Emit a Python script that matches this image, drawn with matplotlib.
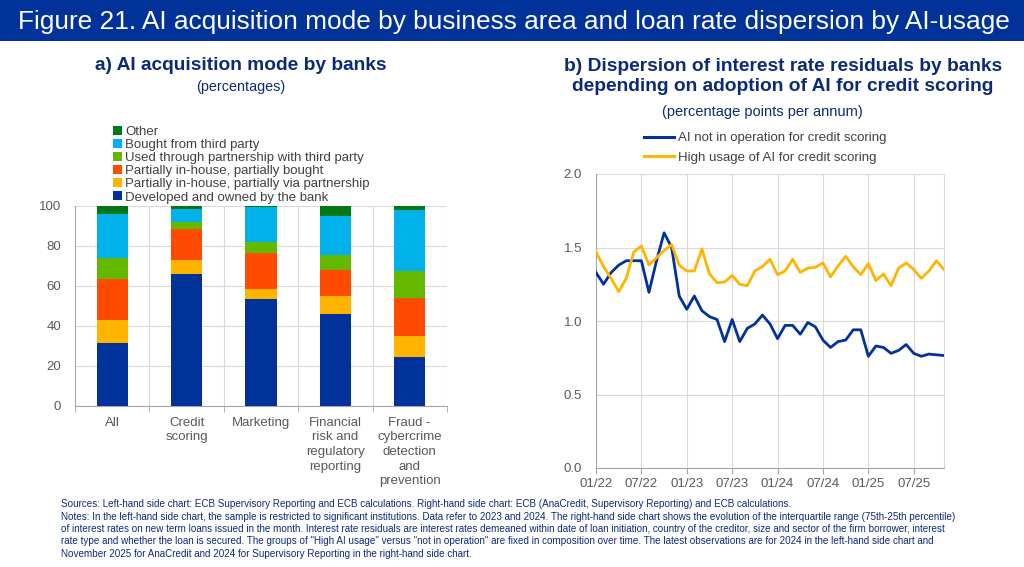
import matplotlib
matplotlib.use("Agg")
import matplotlib.pyplot as plt
from matplotlib.patches import Rectangle
from matplotlib.lines import Line2D
from matplotlib.ticker import FixedLocator, NullFormatter

plt.rcParams['font.family'] = ['Liberation Sans', 'DejaVu Sans']

# ---------------- data ----------------
categories = ["All", "Credit\nscoring", "Marketing", "Financial\nrisk and\nregulatory\nreporting",
              "Fraud -\ncybercrime\ndetection\nand\nprevention"]
series_names = ["Developed and owned by the bank",
                "Partially in-house, partially via partnership",
                "Partially in-house, partially bought",
                "Used through partnership with third party",
                "Bought from third party",
                "Other"]
developed   = [31.3, 65.8, 53.3, 45.8, 24.3]
partnership = [11.5, 7.2, 5.0, 9.0, 10.7]
part_bought = [20.4, 15.2, 17.9, 13.0, 19.0]
used_partner = [10.5, 3.6, 5.5, 7.5, 13.5]
bought      = [22.3, 6.4, 17.8, 19.7, 30.2]
other       = [4.0, 1.8, 0.5, 5.0, 2.3]
bar_series = [developed, partnership, part_bought, used_partner, bought, other]
bar_colors = ["#003299", "#FFB400", "#FF4B00", "#65B800", "#00B1EA", "#007816"]

months = list(range(47))  # Jan 2022 .. Nov 2025
month_tick_pos = [0, 6, 12, 18, 24, 30, 36, 42]
month_tick_labels = ["01/22", "07/22", "01/23", "07/23", "01/24", "07/24", "01/25", "07/25"]
not_in_operation = [1.33, 1.25, 1.33, 1.38, 1.41, 1.41, 1.41, 1.195, 1.41, 1.60,
                    1.50, 1.17, 1.08, 1.17, 1.07, 1.03, 1.01, 0.86, 1.01, 0.86,
                    0.95, 0.98, 1.04, 0.98, 0.88, 0.97, 0.97, 0.91, 0.99, 0.96,
                    0.87, 0.82, 0.86, 0.87, 0.94, 0.94, 0.76, 0.83, 0.82, 0.78,
                    0.80, 0.84, 0.78, 0.76, 0.775, 0.77, 0.765]
high_usage = [1.47, 1.37, 1.29, 1.20, 1.29, 1.47, 1.51, 1.38, 1.43, 1.48,
              1.52, 1.38, 1.34, 1.34, 1.49, 1.32, 1.26, 1.265, 1.31, 1.25,
              1.24, 1.34, 1.37, 1.42, 1.315, 1.34, 1.42, 1.33, 1.36, 1.365,
              1.395, 1.30, 1.375, 1.44, 1.37, 1.315, 1.39, 1.275, 1.32, 1.24,
              1.36, 1.395, 1.35, 1.29, 1.34, 1.41, 1.35]
line_names = ["AI not in operation for credit scoring", "High usage of AI for credit scoring"]
line_colors = ["#003299", "#FFB400"]

# ---------------- figure ----------------
W, H = 1024, 567
fig = plt.figure(figsize=(W / 100, H / 100), dpi=100)
fig.patch.set_facecolor("white")

def fx(px):
    return px / W

def fy(py):
    return 1 - py / H

title_blue = "#003299"
text_blue = "#0C2A7A"
grid_col = "#D9D9D9"
tick_col = "#595959"

# title bar
fig.patches.append(Rectangle((0, fy(41)), 1, 41 / H, transform=fig.transFigure,
                             facecolor=title_blue, edgecolor="none", zorder=0))
fig.text(fx(18), fy(22), "Figure 21. AI acquisition mode by business area and loan rate dispersion by AI-usage",
         color="white", fontsize=18.9, va="center", ha="left")

# ---------------- left chart ----------------
axL = fig.add_axes([fx(75), fy(405.7), fx(447) - fx(75), (405.7 - 205.7) / H])
x = list(range(len(categories)))
bottom = [0.0] * len(categories)
handles = []
for vals, col, name in zip(bar_series, bar_colors, series_names):
    b = axL.bar(x, vals, width=0.42, bottom=bottom, color=col, label=name, zorder=3)
    handles.append(b)
    bottom = [bb + v for bb, v in zip(bottom, vals)]
axL.set_xlim(-0.5, 4.5)
axL.set_ylim(0, 100)
axL.set_yticks([0, 20, 40, 60, 80, 100])
axL.set_xticks(x)
axL.set_xticklabels(categories, fontsize=9.5, color=tick_col, linespacing=1.29, va="top")
axL.tick_params(axis="x", which="major", length=0, pad=8)
axL.xaxis.set_minor_locator(FixedLocator([-0.5, 0.5, 1.5, 2.5, 3.5, 4.5]))
axL.xaxis.set_minor_formatter(NullFormatter())
axL.tick_params(axis="x", which="minor", length=4, color="#A6A6A6", direction="out")
axL.tick_params(axis="y", length=0, labelsize=9.5, labelcolor=tick_col, pad=10)
axL.grid(axis="y", color=grid_col, linewidth=0.8, zorder=0)
axL.grid(axis="x", which="minor", color=grid_col, linewidth=0.8, zorder=0)
for s in ["top", "right"]:
    axL.spines[s].set_visible(False)
for s in ["left", "bottom"]:
    axL.spines[s].set_color("#A6A6A6")
    axL.spines[s].set_linewidth(0.8)

legL = fig.legend(handles[::-1], series_names[::-1], loc="upper left",
                  bbox_to_anchor=(fx(113), fy(126)), frameon=False, fontsize=9.5,
                  handlelength=0.65, handleheight=0.65, handletextpad=0.25,
                  labelspacing=0.08, borderpad=0, borderaxespad=0)
for t in legL.get_texts():
    t.set_color("#404040")

fig.text(fx(241), fy(66), "a) AI acquisition mode by banks", fontsize=13.8, fontweight="bold",
         color=text_blue, ha="center", va="center")
fig.text(fx(241), fy(87.5), "(percentages)", fontsize=10.4, color=text_blue, ha="center", va="center")

# ---------------- right chart ----------------
axR = fig.add_axes([fx(596), fy(468), fx(944) - fx(596), (468 - 174) / H])
axR.plot(months, not_in_operation, color=line_colors[0], linewidth=2.0, label=line_names[0], zorder=3)
axR.plot(months, high_usage, color=line_colors[1], linewidth=2.0, label=line_names[1], zorder=3)
axR.set_xlim(0, 46)
axR.set_ylim(0, 2.0)
axR.set_yticks([0.0, 0.5, 1.0, 1.5, 2.0])
axR.set_yticklabels(["0.0", "0.5", "1.0", "1.5", "2.0"])
axR.set_xticks(month_tick_pos)
axR.set_xticklabels(month_tick_labels)
axR.tick_params(axis="x", length=4, color="#A6A6A6", labelsize=9.5, labelcolor=tick_col, pad=3)
axR.tick_params(axis="y", length=0, labelsize=9.5, labelcolor=tick_col, pad=10)
axR.grid(True, color=grid_col, linewidth=0.8, zorder=0)
axR.spines["top"].set_visible(False)
axR.spines["right"].set_color(grid_col)
axR.spines["right"].set_linewidth(0.8)
for s in ["left", "bottom"]:
    axR.spines[s].set_color("#A6A6A6")
    axR.spines[s].set_linewidth(0.8)

legR = fig.legend(handles=[Line2D([], [], color=c, linewidth=2.2) for c in line_colors],
                  labels=line_names, loc="upper left", bbox_to_anchor=(fx(644), fy(132)),
                  frameon=False, fontsize=9.5, handlelength=2.3, handletextpad=0.3,
                  labelspacing=0.55, borderpad=0, borderaxespad=0)
for t in legR.get_texts():
    t.set_color("#404040")

fig.text(fx(783), fy(76.5), "b) Dispersion of interest rate residuals by banks\ndepending on adoption of AI for credit scoring",
         fontsize=13.8, fontweight="bold", color=text_blue, ha="center", va="center", linespacing=1.2)
fig.text(fx(762), fy(112), "(percentage points per annum)", fontsize=10.5, color=text_blue,
         ha="center", va="center")

# ---------------- notes ----------------
notes = [
    "Sources: Left-hand side chart: ECB Supervisory Reporting and ECB calculations. Right-hand side chart: ECB (AnaCredit, Supervisory Reporting) and ECB calculations.",
    "Notes: In the left-hand side chart, the sample is restricted to significant institutions. Data refer to 2023 and 2024. The right-hand side chart shows the evolution of the interquartile range (75th-25th percentile)",
    "of interest rates on new term loans issued in the month. Interest rate residuals are interest rates demeaned within date of loan initiation, country of the creditor, size and sector of the firm borrower, interest",
    "rate type and whether the loan is secured. The groups of \"High AI usage\" versus \"not in operation\" are fixed in composition over time. The latest observations are for 2024 in the left-hand side chart and",
    "November 2025 for AnaCredit and 2024 for Supervisory Reporting in the right-hand side chart.",
]
for i, line in enumerate(notes):
    fig.text(fx(61), fy(504 + 12.5 * i), line, fontsize=7.15, color=text_blue, ha="left", va="center")

fig.savefig("out.png", dpi=100, facecolor="white")
